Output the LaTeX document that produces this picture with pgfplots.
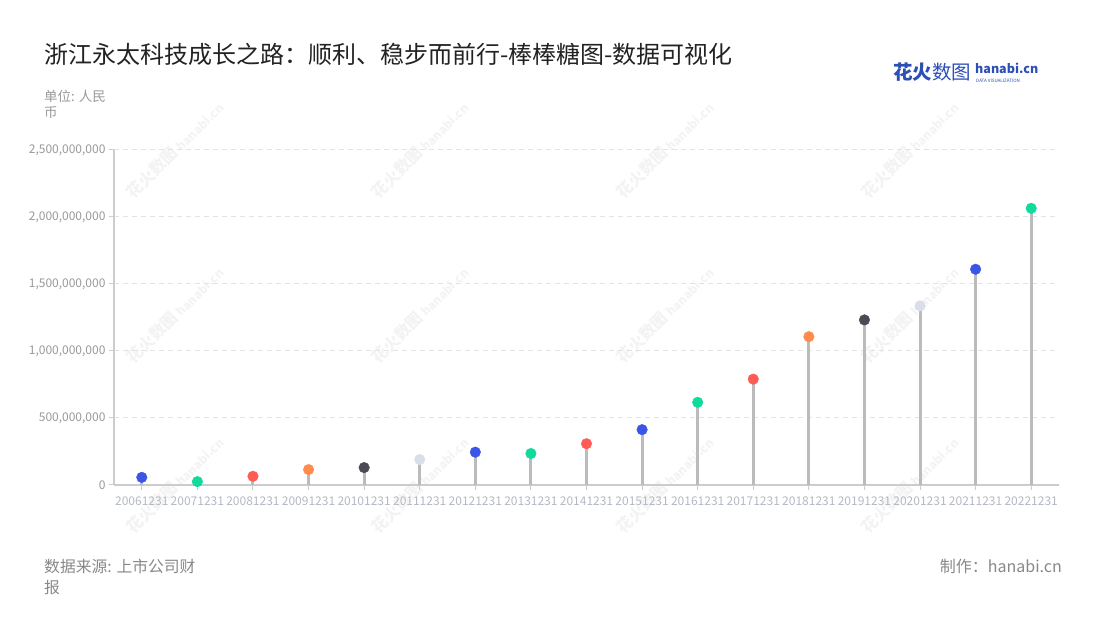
\documentclass[border=0pt]{standalone}
\usepackage{fontspec}
\setmainfont{Noto Sans CJK SC}
\usepackage{pgfplots}
\pgfplotsset{compat=1.18}
\usepackage{pgfplotstable}
\definecolor{cblue}{HTML}{3A55E8}
\definecolor{cgreen}{HTML}{12DA9C}
\definecolor{cred}{HTML}{FF5B55}
\definecolor{corange}{HTML}{FF8C4E}
\definecolor{cdark}{HTML}{4B4B55}
\definecolor{clight}{HTML}{D9DEE8}
\definecolor{stemc}{HTML}{BBBBBB}
\definecolor{axisc}{HTML}{CCCCCC}
\definecolor{gridc}{HTML}{E3E3E3}
\definecolor{titlec}{HTML}{222222}
\definecolor{ytickc}{HTML}{999999}
\definecolor{xtickc}{HTML}{B4B8C4}
\definecolor{notec}{HTML}{888888}
\definecolor{logoc}{HTML}{2C4FB5}
\definecolor{wmc}{HTML}{F3F3F3}
\pgfplotstableread{
x y c
0 57000000 a
1 25000000 b
2 65000000 c
3 115000000 d
4 130000000 e
5 190000000 f
6 245000000 a
7 235000000 b
8 308000000 c
9 413000000 a
10 617000000 b
11 790000000 c
12 1107000000 d
13 1232000000 e
14 1337000000 f
15 1610000000 a
16 2065000000 b
}\datatable
\begin{document}
\begin{tikzpicture}
\path[use as bounding box] (0pt,0pt) rectangle (1100pt,620pt);
% watermarks
\foreach \wx in {175,420,665,910}{
  \foreach \wy in {470,305,135}{
    \node[rotate=45, text=wmc, font=\fontsize{16}{18}\selectfont\bfseries, inner sep=0] at (\wx pt,\wy pt) {花火数图\ \fontsize{12}{14}\selectfont hanabi.cn};
  }
}
\node[anchor=base west, inner sep=0, text=titlec, font=\fontsize{24}{28}\selectfont] at (44pt,556pt) {浙江永太科技成长之路：顺利、稳步而前行-棒棒糖图-数据可视化};
\node[anchor=base west, inner sep=0, text=ytickc, font=\fontsize{13.5}{16}\selectfont] at (44pt,518pt) {单位: 人民};
\node[anchor=base west, inner sep=0, text=ytickc, font=\fontsize{13.5}{16}\selectfont] at (44pt,502pt) {币};
\node[anchor=base west, inner sep=0, text=notec, font=\fontsize{15.8}{18}\selectfont] at (44pt,47pt) {数据来源: 上市公司财};
\node[anchor=base west, inner sep=0, text=notec, font=\fontsize{15.8}{18}\selectfont] at (44pt,26pt) {报};
\node[anchor=base east, inner sep=0, text=notec, font=\fontsize{16}{18}\selectfont] at (1062pt,47pt) {制作：hanabi.cn};
% logo
\node[anchor=base west, inner sep=0, text=logoc, font=\fontsize{19.5}{22}\selectfont\bfseries] at (893pt,540pt) {花火\mdseries 数图};
\node[anchor=base west, inner sep=0, text=logoc, font=\fontsize{12.5}{14}\selectfont\bfseries] at (975pt,546pt) {hanabi.cn};
\node[anchor=base west, inner sep=0, text=logoc, font=\fontsize{4.5}{5}\selectfont] at (976pt,537pt) {DATA VISUALIZATION};
\begin{axis}[
  at={(114pt,135pt)}, anchor=south west,
  scale only axis, width=945pt, height=335pt,
  xmin=-0.5, xmax=16.5, ymin=0, ymax=2500000000,
  axis x line*=bottom, axis y line*=left,
  axis line style={axisc, line width=1.2pt, -},
  xtick={0,...,16},
  xticklabels={20061231,20071231,20081231,20091231,20101231,20111231,20121231,20131231,20141231,20151231,20161231,20171231,20181231,20191231,20201231,20211231,20221231},
  ytick={0,500000000,1000000000,1500000000,2000000000,2500000000},
  yticklabels={0,{500,000,000},{1,000,000,000},{1,500,000,000},{2,000,000,000},{2,500,000,000}},
  x tick label style={text=xtickc, font=\fontsize{12}{14}\selectfont, yshift=-3pt},
  y tick label style={text=ytickc, font=\fontsize{12}{14}\selectfont},
  tick style={axisc, line width=1pt},
  major tick length=5pt,
  tick align=outside,
  ymajorgrids,
  grid style={gridc, dash pattern=on 5pt off 4pt, line width=1pt},
  scaled y ticks=false,
  clip=false,
]
\addplot[ycomb, stemc, line width=3pt] table[x=x, y=y] {\datatable};
\addplot[scatter, only marks, mark=*, mark size=5.3pt,
  scatter src=explicit symbolic,
  scatter/classes={
    a={mark=*, draw=cblue, fill=cblue},
    b={mark=*, draw=cgreen, fill=cgreen},
    c={mark=*, draw=cred, fill=cred},
    d={mark=*, draw=corange, fill=corange},
    e={mark=*, draw=cdark, fill=cdark},
    f={mark=*, draw=clight, fill=clight}}
] table[x=x, y=y, meta=c] {\datatable};
\end{axis}
\end{tikzpicture}
\end{document}
